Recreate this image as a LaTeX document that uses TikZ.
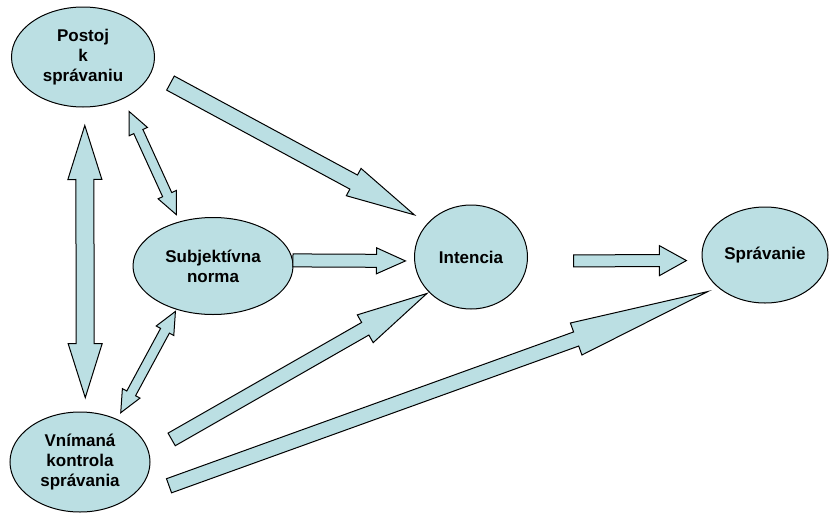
\documentclass[tikz,border=0pt]{standalone}
\usepackage{fontspec}
\setmainfont{Liberation Sans}
\usepackage{tikz}
\usetikzlibrary{shapes.geometric,calc}
\definecolor{boxblue}{RGB}{187,223,227}
\newcommand{\onearrow}[5]{%
  \coordinate (t0) at (#1);
  \coordinate (t1) at (#2);
  \coordinate (hb) at ($(t1)!#5!(t0)$);
  \draw[fatline] ($(t0)!#3!90:(t1)$) -- ($(hb)!#3!90:(t1)$) -- ($(hb)!#4!90:(t1)$) -- (t1)
    -- ($(hb)!#4!-90:(t1)$) -- ($(hb)!#3!-90:(t1)$) -- ($(t0)!#3!-90:(t1)$) -- cycle;
}
\newcommand{\twoarrow}[5]{%
  \coordinate (t0) at (#1);
  \coordinate (t1) at (#2);
  \coordinate (ha) at ($(t0)!#5!(t1)$);
  \coordinate (hb) at ($(t1)!#5!(t0)$);
  \draw[fatline] (t0) -- ($(ha)!#4!90:(t1)$) -- ($(ha)!#3!90:(t1)$) -- ($(hb)!#3!90:(t1)$)
    -- ($(hb)!#4!90:(t1)$) -- (t1) -- ($(hb)!#4!-90:(t1)$) -- ($(hb)!#3!-90:(t1)$)
    -- ($(ha)!#3!-90:(t1)$) -- ($(ha)!#4!-90:(t1)$) -- cycle;
}

\begin{document}
\begin{tikzpicture}[x=1pt,y=-1pt,
  idea/.style={ellipse,draw=black,line width=1pt,fill=boxblue,inner sep=0pt,align=center,
    font=\bfseries\fontsize{17}{20}\selectfont},
  fatline/.style={draw=black,line width=1pt,fill=boxblue}]
\useasboundingbox (0,0) rectangle (829,514);
\node[idea,minimum width=143pt,minimum height=100pt] (post) at (83,57) {Postoj\\k\\správaniu};
\node[idea,minimum width=160pt,minimum height=97pt] (subj) at (213,266) {Subjektívna\\norma};
\node[idea,minimum width=140pt,minimum height=100pt] (vnim) at (80,462) {Vnímaná\\kontrola\\správania};
\node[idea,minimum width=113pt,minimum height=104pt] (int) at (471,257) {Intencia};
\node[idea,minimum width=126pt,minimum height=96pt] (sprav) at (765,255) {Správanie};
\onearrow{$(post.-13)!21.7pt!(int.141)$}{$(int.141)!15.7pt!(post.-13)$}{8pt}{15.5pt}{69pt}
\onearrow{subj.4}{$(int.184)!8.7pt!(subj.4)$}{6.5pt}{13pt}{29pt}
\onearrow{$(vnim.8)!25.9pt!(int.220)$}{$(int.220)!2.3pt!(vnim.8)$}{7.25pt}{16pt}{71pt}
\onearrow{$(vnim.-45)!51pt!(sprav.215)$}{$(sprav.215)!11pt!(vnim.-45)$}{7.5pt}{17pt}{140pt}
\onearrow{$(int.-4)!45.7pt!(sprav.185)$}{$(sprav.185)!15.5pt!(int.-4)$}{6pt}{15pt}{27pt}
\twoarrow{$(post.-88)!18pt!(vnim.84)$}{$(vnim.84)!14pt!(post.-88)$}{9pt}{17pt}{54pt}
\twoarrow{$(post.-46)!14pt!(subj.127)$}{$(subj.127)!7.5pt!(post.-46)$}{5pt}{10pt}{22pt}
\twoarrow{$(subj.230)!2pt!(vnim.49)$}{$(vnim.49)!7.3pt!(subj.230)$}{5pt}{10pt}{22pt}
\end{tikzpicture}
\end{document}
